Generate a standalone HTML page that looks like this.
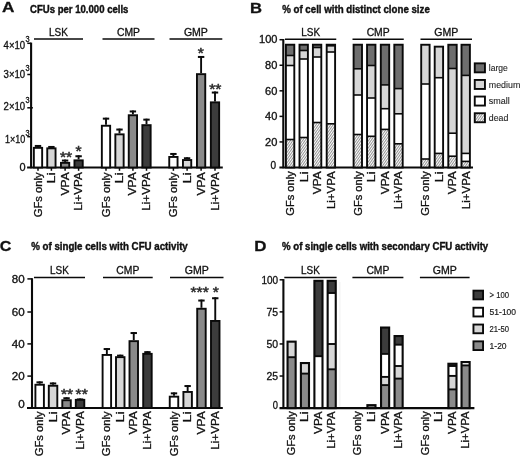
<!DOCTYPE html>
<html><head><meta charset="utf-8"><title>Figure</title>
<style>
html,body{margin:0;padding:0;background:#fff;overflow:hidden}
svg{display:block}
text{font-family:"Liberation Sans",Arial,sans-serif}
</style></head>
<body>
<svg width="520" height="456" viewBox="0 0 520 456">
<defs>
<pattern id="hatch" width="2" height="2" patternUnits="userSpaceOnUse" patternTransform="rotate(-55)">
<rect width="2" height="2" fill="#fff"/>
<line x1="0" y1="0.5" x2="2" y2="0.5" stroke="#808080" stroke-width="0.85"/>
</pattern>
</defs>
<rect width="520" height="456" fill="#fff"/>
<text x="2.0" y="12.4" font-size="14.8" text-anchor="start" font-weight="bold" textLength="12.4" lengthAdjust="spacingAndGlyphs" fill="#111" stroke="#111" stroke-width="0.3" >A</text>
<text x="30.1" y="13.1" font-size="10.4" text-anchor="start" font-weight="bold" textLength="98.3" lengthAdjust="spacingAndGlyphs" fill="#111" stroke="#111" stroke-width="0.4" >CFUs per 10.000 cells</text>
<line x1="31.1" y1="42.599999999999994" x2="31.1" y2="168.3" stroke="#0a0a0a" stroke-width="2.1"/>
<line x1="27.1" y1="167.5" x2="222.8" y2="167.5" stroke="#0a0a0a" stroke-width="2.1"/>
<line x1="27.3" y1="136.7" x2="31.1" y2="136.7" stroke="#0a0a0a" stroke-width="1.5"/>
<text x="25.2" y="142.6" font-size="10" text-anchor="end" textLength="20.2" lengthAdjust="spacingAndGlyphs" fill="#111" stroke="#111" stroke-width="0.3" >1×10</text>
<text x="25.5" y="135.9" font-size="8.2" text-anchor="start" textLength="4.1" lengthAdjust="spacingAndGlyphs" fill="#111" stroke="#111" stroke-width="0.3" >3</text>
<line x1="27.3" y1="107.8" x2="32.9" y2="107.8" stroke="#0a0a0a" stroke-width="1.5"/>
<text x="25.2" y="110.0" font-size="10" text-anchor="end" textLength="21.6" lengthAdjust="spacingAndGlyphs" fill="#111" stroke="#111" stroke-width="0.3" >2×10</text>
<text x="25.5" y="103.3" font-size="8.2" text-anchor="start" textLength="4.1" lengthAdjust="spacingAndGlyphs" fill="#111" stroke="#111" stroke-width="0.3" >3</text>
<line x1="27.3" y1="74.5" x2="31.1" y2="74.5" stroke="#0a0a0a" stroke-width="1.5"/>
<text x="25.2" y="77.6" font-size="10" text-anchor="end" textLength="21.6" lengthAdjust="spacingAndGlyphs" fill="#111" stroke="#111" stroke-width="0.3" >3×10</text>
<text x="25.5" y="70.89999999999999" font-size="8.2" text-anchor="start" textLength="4.1" lengthAdjust="spacingAndGlyphs" fill="#111" stroke="#111" stroke-width="0.3" >3</text>
<line x1="27.3" y1="43.3" x2="31.1" y2="43.3" stroke="#0a0a0a" stroke-width="1.5"/>
<text x="25.2" y="48.5" font-size="10" text-anchor="end" textLength="21.6" lengthAdjust="spacingAndGlyphs" fill="#111" stroke="#111" stroke-width="0.3" >4×10</text>
<text x="25.5" y="41.8" font-size="8.2" text-anchor="start" textLength="4.1" lengthAdjust="spacingAndGlyphs" fill="#111" stroke="#111" stroke-width="0.3" >3</text>
<text x="19.6" y="171.4" font-size="10.1" text-anchor="start" textLength="6.1" lengthAdjust="spacingAndGlyphs" fill="#111" stroke="#111" stroke-width="0.3" >0</text>
<line x1="34" y1="39.0" x2="83" y2="39.0" stroke="#0a0a0a" stroke-width="1.5"/>
<text x="58.5" y="35.8" font-size="10" text-anchor="middle" textLength="18.8" lengthAdjust="spacingAndGlyphs" fill="#111" stroke="#111" stroke-width="0.3" >LSK</text>
<line x1="102.5" y1="39.0" x2="154.5" y2="39.0" stroke="#0a0a0a" stroke-width="1.5"/>
<text x="128.5" y="35.8" font-size="10" text-anchor="middle" textLength="23" lengthAdjust="spacingAndGlyphs" fill="#111" stroke="#111" stroke-width="0.3" >CMP</text>
<line x1="169.5" y1="39.0" x2="222.3" y2="39.0" stroke="#0a0a0a" stroke-width="1.5"/>
<text x="195.9" y="35.8" font-size="10" text-anchor="middle" textLength="24" lengthAdjust="spacingAndGlyphs" fill="#111" stroke="#111" stroke-width="0.3" >GMP</text>
<line x1="38" y1="145.0" x2="38" y2="146.9" stroke="#0a0a0a" stroke-width="1.9"/>
<line x1="34.8" y1="145.95" x2="41.2" y2="145.95" stroke="#0a0a0a" stroke-width="2.0"/>
<rect x="33.85" y="147.85" width="8.30" height="19.65" fill="#ffffff" stroke="#0a0a0a" stroke-width="1.9"/>
<line x1="38" y1="167.5" x2="38" y2="170.8" stroke="#0a0a0a" stroke-width="1.5"/>
<line x1="51.4" y1="146.0" x2="51.4" y2="147.4" stroke="#0a0a0a" stroke-width="1.9"/>
<line x1="48.199999999999996" y1="146.95" x2="54.6" y2="146.95" stroke="#0a0a0a" stroke-width="2.0"/>
<rect x="47.25" y="148.35" width="8.30" height="19.15" fill="#d6d6d6" stroke="#0a0a0a" stroke-width="1.9"/>
<line x1="51.4" y1="167.5" x2="51.4" y2="170.8" stroke="#0a0a0a" stroke-width="1.5"/>
<line x1="65.1" y1="159.6" x2="65.1" y2="161.9" stroke="#0a0a0a" stroke-width="1.9"/>
<line x1="61.89999999999999" y1="160.54999999999998" x2="68.3" y2="160.54999999999998" stroke="#0a0a0a" stroke-width="2.0"/>
<rect x="60.95" y="162.85" width="8.30" height="4.65" fill="#8a8a8a" stroke="#0a0a0a" stroke-width="1.9"/>
<line x1="65.1" y1="167.5" x2="65.1" y2="170.8" stroke="#0a0a0a" stroke-width="1.5"/>
<line x1="78.6" y1="155.3" x2="78.6" y2="159.4" stroke="#0a0a0a" stroke-width="1.9"/>
<line x1="75.39999999999999" y1="156.25" x2="81.8" y2="156.25" stroke="#0a0a0a" stroke-width="2.0"/>
<rect x="74.45" y="160.35" width="8.30" height="7.15" fill="#3c3c3c" stroke="#0a0a0a" stroke-width="1.9"/>
<line x1="78.6" y1="167.5" x2="78.6" y2="170.8" stroke="#0a0a0a" stroke-width="1.5"/>
<line x1="106" y1="117.7" x2="106" y2="124.8" stroke="#0a0a0a" stroke-width="1.9"/>
<line x1="102.8" y1="118.65" x2="109.2" y2="118.65" stroke="#0a0a0a" stroke-width="2.0"/>
<rect x="101.85" y="125.75" width="8.30" height="41.75" fill="#ffffff" stroke="#0a0a0a" stroke-width="1.9"/>
<line x1="106" y1="167.5" x2="106" y2="170.8" stroke="#0a0a0a" stroke-width="1.5"/>
<line x1="119.5" y1="128.6" x2="119.5" y2="133.4" stroke="#0a0a0a" stroke-width="1.9"/>
<line x1="116.3" y1="129.54999999999998" x2="122.7" y2="129.54999999999998" stroke="#0a0a0a" stroke-width="2.0"/>
<rect x="115.35" y="134.35" width="8.30" height="33.15" fill="#d6d6d6" stroke="#0a0a0a" stroke-width="1.9"/>
<line x1="119.5" y1="167.5" x2="119.5" y2="170.8" stroke="#0a0a0a" stroke-width="1.5"/>
<line x1="132.9" y1="110.5" x2="132.9" y2="114.3" stroke="#0a0a0a" stroke-width="1.9"/>
<line x1="129.70000000000002" y1="111.45" x2="136.1" y2="111.45" stroke="#0a0a0a" stroke-width="2.0"/>
<rect x="128.75" y="115.25" width="8.30" height="52.25" fill="#8a8a8a" stroke="#0a0a0a" stroke-width="1.9"/>
<line x1="132.9" y1="167.5" x2="132.9" y2="170.8" stroke="#0a0a0a" stroke-width="1.5"/>
<line x1="146.5" y1="118.7" x2="146.5" y2="124.2" stroke="#0a0a0a" stroke-width="1.9"/>
<line x1="143.3" y1="119.65" x2="149.7" y2="119.65" stroke="#0a0a0a" stroke-width="2.0"/>
<rect x="142.35" y="125.15" width="8.30" height="42.35" fill="#3c3c3c" stroke="#0a0a0a" stroke-width="1.9"/>
<line x1="146.5" y1="167.5" x2="146.5" y2="170.8" stroke="#0a0a0a" stroke-width="1.5"/>
<line x1="173.4" y1="153" x2="173.4" y2="156" stroke="#0a0a0a" stroke-width="1.9"/>
<line x1="170.20000000000002" y1="153.95" x2="176.6" y2="153.95" stroke="#0a0a0a" stroke-width="2.0"/>
<rect x="169.25" y="156.95" width="8.30" height="10.55" fill="#ffffff" stroke="#0a0a0a" stroke-width="1.9"/>
<line x1="173.4" y1="167.5" x2="173.4" y2="170.8" stroke="#0a0a0a" stroke-width="1.5"/>
<line x1="187.1" y1="157.3" x2="187.1" y2="159.1" stroke="#0a0a0a" stroke-width="1.9"/>
<line x1="183.9" y1="158.25" x2="190.29999999999998" y2="158.25" stroke="#0a0a0a" stroke-width="2.0"/>
<rect x="182.95" y="160.05" width="8.30" height="7.45" fill="#d6d6d6" stroke="#0a0a0a" stroke-width="1.9"/>
<line x1="187.1" y1="167.5" x2="187.1" y2="170.8" stroke="#0a0a0a" stroke-width="1.5"/>
<line x1="201.1" y1="56" x2="201.1" y2="73.2" stroke="#0a0a0a" stroke-width="1.9"/>
<line x1="197.9" y1="56.95" x2="204.29999999999998" y2="56.95" stroke="#0a0a0a" stroke-width="2.0"/>
<rect x="196.95" y="74.15" width="8.30" height="93.35" fill="#8a8a8a" stroke="#0a0a0a" stroke-width="1.9"/>
<line x1="201.1" y1="167.5" x2="201.1" y2="170.8" stroke="#0a0a0a" stroke-width="1.5"/>
<line x1="215" y1="91.6" x2="215" y2="101.4" stroke="#0a0a0a" stroke-width="1.9"/>
<line x1="211.8" y1="92.55" x2="218.2" y2="92.55" stroke="#0a0a0a" stroke-width="2.0"/>
<rect x="210.85" y="102.35" width="8.30" height="65.15" fill="#3c3c3c" stroke="#0a0a0a" stroke-width="1.9"/>
<line x1="215" y1="167.5" x2="215" y2="170.8" stroke="#0a0a0a" stroke-width="1.5"/>
<text x="41.6" y="172.3" font-size="10.2" text-anchor="end" textLength="45.0" lengthAdjust="spacingAndGlyphs" transform="rotate(-90 41.6 172.3)" fill="#111" stroke="#111" stroke-width="0.3" >GFs only</text>
<text x="55.0" y="172.3" font-size="10.2" text-anchor="end" textLength="11.3" lengthAdjust="spacingAndGlyphs" transform="rotate(-90 55.0 172.3)" fill="#111" stroke="#111" stroke-width="0.3" >Li</text>
<text x="68.69999999999999" y="172.3" font-size="10.2" text-anchor="end" textLength="23.2" lengthAdjust="spacingAndGlyphs" transform="rotate(-90 68.69999999999999 172.3)" fill="#111" stroke="#111" stroke-width="0.3" >VPA</text>
<text x="82.19999999999999" y="172.3" font-size="10.2" text-anchor="end" textLength="38.4" lengthAdjust="spacingAndGlyphs" transform="rotate(-90 82.19999999999999 172.3)" fill="#111" stroke="#111" stroke-width="0.3" >Li+VPA</text>
<text x="109.6" y="172.3" font-size="10.2" text-anchor="end" textLength="45.0" lengthAdjust="spacingAndGlyphs" transform="rotate(-90 109.6 172.3)" fill="#111" stroke="#111" stroke-width="0.3" >GFs only</text>
<text x="123.1" y="172.3" font-size="10.2" text-anchor="end" textLength="11.3" lengthAdjust="spacingAndGlyphs" transform="rotate(-90 123.1 172.3)" fill="#111" stroke="#111" stroke-width="0.3" >Li</text>
<text x="136.5" y="172.3" font-size="10.2" text-anchor="end" textLength="23.2" lengthAdjust="spacingAndGlyphs" transform="rotate(-90 136.5 172.3)" fill="#111" stroke="#111" stroke-width="0.3" >VPA</text>
<text x="150.1" y="172.3" font-size="10.2" text-anchor="end" textLength="38.4" lengthAdjust="spacingAndGlyphs" transform="rotate(-90 150.1 172.3)" fill="#111" stroke="#111" stroke-width="0.3" >Li+VPA</text>
<text x="177.0" y="172.3" font-size="10.2" text-anchor="end" textLength="45.0" lengthAdjust="spacingAndGlyphs" transform="rotate(-90 177.0 172.3)" fill="#111" stroke="#111" stroke-width="0.3" >GFs only</text>
<text x="190.7" y="172.3" font-size="10.2" text-anchor="end" textLength="11.3" lengthAdjust="spacingAndGlyphs" transform="rotate(-90 190.7 172.3)" fill="#111" stroke="#111" stroke-width="0.3" >Li</text>
<text x="204.7" y="172.3" font-size="10.2" text-anchor="end" textLength="23.2" lengthAdjust="spacingAndGlyphs" transform="rotate(-90 204.7 172.3)" fill="#111" stroke="#111" stroke-width="0.3" >VPA</text>
<text x="218.6" y="172.3" font-size="10.2" text-anchor="end" textLength="38.4" lengthAdjust="spacingAndGlyphs" transform="rotate(-90 218.6 172.3)" fill="#111" stroke="#111" stroke-width="0.3" >Li+VPA</text>
<text x="66.1" y="162.0" font-size="14.5" text-anchor="middle" textLength="12.2" lengthAdjust="spacingAndGlyphs" fill="#2a2a2a" stroke="#2a2a2a" stroke-width="0.5" >**</text>
<text x="78.6" y="156.15" font-size="14.5" text-anchor="middle" textLength="6.1" lengthAdjust="spacingAndGlyphs" fill="#2a2a2a" stroke="#2a2a2a" stroke-width="0.5" >*</text>
<text x="200.8" y="57.6" font-size="14.5" text-anchor="middle" textLength="6.1" lengthAdjust="spacingAndGlyphs" fill="#2a2a2a" stroke="#2a2a2a" stroke-width="0.5" >*</text>
<text x="215.3" y="94.4" font-size="14.5" text-anchor="middle" textLength="12.2" lengthAdjust="spacingAndGlyphs" fill="#2a2a2a" stroke="#2a2a2a" stroke-width="0.5" >**</text>
<text x="250.0" y="12.5" font-size="14.8" text-anchor="start" font-weight="bold" textLength="12" lengthAdjust="spacingAndGlyphs" fill="#111" stroke="#111" stroke-width="0.3" >B</text>
<text x="282.2" y="13.1" font-size="10.4" text-anchor="start" font-weight="bold" textLength="147.6" lengthAdjust="spacingAndGlyphs" fill="#111" stroke="#111" stroke-width="0.4" >% of cell with distinct clone size</text>
<line x1="283.3" y1="39.0" x2="283.3" y2="168.3" stroke="#0a0a0a" stroke-width="2.1"/>
<line x1="279.40000000000003" y1="167.5" x2="473" y2="167.5" stroke="#0a0a0a" stroke-width="2.1"/>
<text x="276.2" y="168.5" font-size="10.1" text-anchor="end" textLength="5.6" lengthAdjust="spacingAndGlyphs" fill="#111" stroke="#111" stroke-width="0.3" >0</text>
<line x1="279.5" y1="141.94" x2="283.3" y2="141.94" stroke="#0a0a0a" stroke-width="1.5"/>
<text x="277.4" y="145.64" font-size="10.1" text-anchor="end" textLength="12.3" lengthAdjust="spacingAndGlyphs" fill="#111" stroke="#111" stroke-width="0.3" >20</text>
<line x1="279.5" y1="116.38" x2="283.3" y2="116.38" stroke="#0a0a0a" stroke-width="1.5"/>
<text x="277.4" y="120.08" font-size="10.1" text-anchor="end" textLength="12.3" lengthAdjust="spacingAndGlyphs" fill="#111" stroke="#111" stroke-width="0.3" >40</text>
<line x1="279.5" y1="90.82000000000001" x2="283.3" y2="90.82000000000001" stroke="#0a0a0a" stroke-width="1.5"/>
<text x="277.4" y="94.52000000000001" font-size="10.1" text-anchor="end" textLength="12.3" lengthAdjust="spacingAndGlyphs" fill="#111" stroke="#111" stroke-width="0.3" >60</text>
<line x1="279.5" y1="65.26" x2="283.3" y2="65.26" stroke="#0a0a0a" stroke-width="1.5"/>
<text x="277.4" y="68.96000000000001" font-size="10.1" text-anchor="end" textLength="12.3" lengthAdjust="spacingAndGlyphs" fill="#111" stroke="#111" stroke-width="0.3" >80</text>
<line x1="279.5" y1="39.7" x2="283.3" y2="39.7" stroke="#0a0a0a" stroke-width="1.5"/>
<text x="277.4" y="43.400000000000006" font-size="10.1" text-anchor="end" textLength="18.4" lengthAdjust="spacingAndGlyphs" fill="#111" stroke="#111" stroke-width="0.3" >100</text>
<line x1="285" y1="39.2" x2="336.25" y2="39.2" stroke="#0a0a0a" stroke-width="1.5"/>
<text x="310.625" y="35.8" font-size="10" text-anchor="middle" textLength="18.8" lengthAdjust="spacingAndGlyphs" fill="#111" stroke="#111" stroke-width="0.3" >LSK</text>
<line x1="352.5" y1="39.2" x2="403.75" y2="39.2" stroke="#0a0a0a" stroke-width="1.5"/>
<text x="378.125" y="35.8" font-size="10" text-anchor="middle" textLength="23" lengthAdjust="spacingAndGlyphs" fill="#111" stroke="#111" stroke-width="0.3" >CMP</text>
<line x1="420.5" y1="39.2" x2="472" y2="39.2" stroke="#0a0a0a" stroke-width="1.5"/>
<text x="446.25" y="35.8" font-size="10" text-anchor="middle" textLength="24" lengthAdjust="spacingAndGlyphs" fill="#111" stroke="#111" stroke-width="0.3" >GMP</text>
<rect x="285.90" y="44.70" width="8.40" height="10.80" fill="#6e6e6e"/>
<rect x="285.90" y="55.50" width="8.40" height="10.00" fill="#d6d6d6"/>
<rect x="285.90" y="65.50" width="8.40" height="74.00" fill="#ffffff"/>
<rect x="285.90" y="139.50" width="8.40" height="28.00" fill="url(#hatch)"/>
<line x1="285.9" y1="55.5" x2="294.3" y2="55.5" stroke="#0a0a0a" stroke-width="1.6"/>
<line x1="285.9" y1="65.5" x2="294.3" y2="65.5" stroke="#0a0a0a" stroke-width="1.6"/>
<line x1="285.9" y1="139.5" x2="294.3" y2="139.5" stroke="#0a0a0a" stroke-width="1.6"/>
<rect x="285.90" y="44.70" width="8.40" height="122.80" fill="none" stroke="#0a0a0a" stroke-width="1.9"/>
<rect x="299.50" y="44.70" width="8.40" height="5.80" fill="#6e6e6e"/>
<rect x="299.50" y="50.50" width="8.40" height="8.50" fill="#d6d6d6"/>
<rect x="299.50" y="59.00" width="8.40" height="78.50" fill="#ffffff"/>
<rect x="299.50" y="137.50" width="8.40" height="30.00" fill="url(#hatch)"/>
<line x1="299.5" y1="50.5" x2="307.9" y2="50.5" stroke="#0a0a0a" stroke-width="1.6"/>
<line x1="299.5" y1="59" x2="307.9" y2="59" stroke="#0a0a0a" stroke-width="1.6"/>
<line x1="299.5" y1="137.5" x2="307.9" y2="137.5" stroke="#0a0a0a" stroke-width="1.6"/>
<rect x="299.50" y="44.70" width="8.40" height="122.80" fill="none" stroke="#0a0a0a" stroke-width="1.9"/>
<rect x="312.90" y="44.70" width="8.40" height="2.80" fill="#6e6e6e"/>
<rect x="312.90" y="47.50" width="8.40" height="9.50" fill="#d6d6d6"/>
<rect x="312.90" y="57.00" width="8.40" height="65.50" fill="#ffffff"/>
<rect x="312.90" y="122.50" width="8.40" height="45.00" fill="url(#hatch)"/>
<line x1="312.9" y1="47.5" x2="321.3" y2="47.5" stroke="#0a0a0a" stroke-width="1.6"/>
<line x1="312.9" y1="57" x2="321.3" y2="57" stroke="#0a0a0a" stroke-width="1.6"/>
<line x1="312.9" y1="122.5" x2="321.3" y2="122.5" stroke="#0a0a0a" stroke-width="1.6"/>
<rect x="312.90" y="44.70" width="8.40" height="122.80" fill="none" stroke="#0a0a0a" stroke-width="1.9"/>
<rect x="326.70" y="44.70" width="8.40" height="1.10" fill="#6e6e6e"/>
<rect x="326.70" y="45.80" width="8.40" height="6.20" fill="#d6d6d6"/>
<rect x="326.70" y="52.00" width="8.40" height="71.80" fill="#ffffff"/>
<rect x="326.70" y="123.80" width="8.40" height="43.70" fill="url(#hatch)"/>
<line x1="326.7" y1="45.8" x2="335.1" y2="45.8" stroke="#0a0a0a" stroke-width="1.6"/>
<line x1="326.7" y1="52" x2="335.1" y2="52" stroke="#0a0a0a" stroke-width="1.6"/>
<line x1="326.7" y1="123.8" x2="335.1" y2="123.8" stroke="#0a0a0a" stroke-width="1.6"/>
<rect x="326.70" y="44.70" width="8.40" height="122.80" fill="none" stroke="#0a0a0a" stroke-width="1.9"/>
<rect x="353.60" y="44.70" width="8.40" height="24.10" fill="#6e6e6e"/>
<rect x="353.60" y="68.80" width="8.40" height="26.20" fill="#d6d6d6"/>
<rect x="353.60" y="95.00" width="8.40" height="39.50" fill="#ffffff"/>
<rect x="353.60" y="134.50" width="8.40" height="33.00" fill="url(#hatch)"/>
<line x1="353.6" y1="68.8" x2="362.0" y2="68.8" stroke="#0a0a0a" stroke-width="1.6"/>
<line x1="353.6" y1="95" x2="362.0" y2="95" stroke="#0a0a0a" stroke-width="1.6"/>
<line x1="353.6" y1="134.5" x2="362.0" y2="134.5" stroke="#0a0a0a" stroke-width="1.6"/>
<rect x="353.60" y="44.70" width="8.40" height="122.80" fill="none" stroke="#0a0a0a" stroke-width="1.9"/>
<rect x="367.05" y="44.70" width="8.40" height="20.80" fill="#6e6e6e"/>
<rect x="367.05" y="65.50" width="8.40" height="32.50" fill="#d6d6d6"/>
<rect x="367.05" y="98.00" width="8.40" height="38.30" fill="#ffffff"/>
<rect x="367.05" y="136.30" width="8.40" height="31.20" fill="url(#hatch)"/>
<line x1="367.05" y1="65.5" x2="375.45" y2="65.5" stroke="#0a0a0a" stroke-width="1.6"/>
<line x1="367.05" y1="98" x2="375.45" y2="98" stroke="#0a0a0a" stroke-width="1.6"/>
<line x1="367.05" y1="136.3" x2="375.45" y2="136.3" stroke="#0a0a0a" stroke-width="1.6"/>
<rect x="367.05" y="44.70" width="8.40" height="122.80" fill="none" stroke="#0a0a0a" stroke-width="1.9"/>
<rect x="380.80" y="44.70" width="8.40" height="40.20" fill="#6e6e6e"/>
<rect x="380.80" y="84.90" width="8.40" height="23.80" fill="#d6d6d6"/>
<rect x="380.80" y="108.70" width="8.40" height="20.70" fill="#ffffff"/>
<rect x="380.80" y="129.40" width="8.40" height="38.10" fill="url(#hatch)"/>
<line x1="380.8" y1="84.9" x2="389.2" y2="84.9" stroke="#0a0a0a" stroke-width="1.6"/>
<line x1="380.8" y1="108.7" x2="389.2" y2="108.7" stroke="#0a0a0a" stroke-width="1.6"/>
<line x1="380.8" y1="129.4" x2="389.2" y2="129.4" stroke="#0a0a0a" stroke-width="1.6"/>
<rect x="380.80" y="44.70" width="8.40" height="122.80" fill="none" stroke="#0a0a0a" stroke-width="1.9"/>
<rect x="394.30" y="44.70" width="8.40" height="43.90" fill="#6e6e6e"/>
<rect x="394.30" y="88.60" width="8.40" height="25.20" fill="#d6d6d6"/>
<rect x="394.30" y="113.80" width="8.40" height="30.00" fill="#ffffff"/>
<rect x="394.30" y="143.80" width="8.40" height="23.70" fill="url(#hatch)"/>
<line x1="394.3" y1="88.6" x2="402.7" y2="88.6" stroke="#0a0a0a" stroke-width="1.6"/>
<line x1="394.3" y1="113.8" x2="402.7" y2="113.8" stroke="#0a0a0a" stroke-width="1.6"/>
<line x1="394.3" y1="143.8" x2="402.7" y2="143.8" stroke="#0a0a0a" stroke-width="1.6"/>
<rect x="394.30" y="44.70" width="8.40" height="122.80" fill="none" stroke="#0a0a0a" stroke-width="1.9"/>
<rect x="421.20" y="44.75" width="8.40" height="39.25" fill="#d6d6d6"/>
<rect x="421.20" y="84.00" width="8.40" height="75.00" fill="#ffffff"/>
<rect x="421.20" y="159.00" width="8.40" height="8.50" fill="url(#hatch)"/>
<line x1="421.2" y1="84" x2="429.6" y2="84" stroke="#0a0a0a" stroke-width="1.6"/>
<line x1="421.2" y1="159" x2="429.6" y2="159" stroke="#0a0a0a" stroke-width="1.6"/>
<rect x="421.20" y="44.75" width="8.40" height="122.75" fill="none" stroke="#0a0a0a" stroke-width="1.9"/>
<rect x="434.70" y="46.65" width="8.40" height="31.05" fill="#d6d6d6"/>
<rect x="434.70" y="77.70" width="8.40" height="75.70" fill="#ffffff"/>
<rect x="434.70" y="153.40" width="8.40" height="14.10" fill="url(#hatch)"/>
<line x1="434.7" y1="77.7" x2="443.1" y2="77.7" stroke="#0a0a0a" stroke-width="1.6"/>
<line x1="434.7" y1="153.4" x2="443.1" y2="153.4" stroke="#0a0a0a" stroke-width="1.6"/>
<rect x="434.70" y="46.65" width="8.40" height="120.85" fill="none" stroke="#0a0a0a" stroke-width="1.9"/>
<rect x="448.30" y="44.75" width="8.40" height="23.75" fill="#6e6e6e"/>
<rect x="448.30" y="68.50" width="8.40" height="64.70" fill="#d6d6d6"/>
<rect x="448.30" y="133.20" width="8.40" height="23.00" fill="#ffffff"/>
<rect x="448.30" y="156.20" width="8.40" height="11.30" fill="url(#hatch)"/>
<line x1="448.3" y1="68.5" x2="456.7" y2="68.5" stroke="#0a0a0a" stroke-width="1.6"/>
<line x1="448.3" y1="133.2" x2="456.7" y2="133.2" stroke="#0a0a0a" stroke-width="1.6"/>
<line x1="448.3" y1="156.2" x2="456.7" y2="156.2" stroke="#0a0a0a" stroke-width="1.6"/>
<rect x="448.30" y="44.75" width="8.40" height="122.75" fill="none" stroke="#0a0a0a" stroke-width="1.9"/>
<rect x="461.50" y="44.75" width="8.40" height="30.65" fill="#6e6e6e"/>
<rect x="461.50" y="75.40" width="8.40" height="78.00" fill="#d6d6d6"/>
<rect x="461.50" y="153.40" width="8.40" height="8.00" fill="#ffffff"/>
<rect x="461.50" y="161.40" width="8.40" height="6.10" fill="url(#hatch)"/>
<line x1="461.5" y1="75.4" x2="469.9" y2="75.4" stroke="#0a0a0a" stroke-width="1.6"/>
<line x1="461.5" y1="153.4" x2="469.9" y2="153.4" stroke="#0a0a0a" stroke-width="1.6"/>
<line x1="461.5" y1="161.4" x2="469.9" y2="161.4" stroke="#0a0a0a" stroke-width="1.6"/>
<rect x="461.50" y="44.75" width="8.40" height="122.75" fill="none" stroke="#0a0a0a" stroke-width="1.9"/>
<text x="294.1" y="171.3" font-size="10.2" text-anchor="end" textLength="44.33" lengthAdjust="spacingAndGlyphs" transform="rotate(-90 294.1 171.3)" fill="#111" stroke="#111" stroke-width="0.3" >GFs only</text>
<text x="307.7" y="171.3" font-size="10.2" text-anchor="end" textLength="11.13" lengthAdjust="spacingAndGlyphs" transform="rotate(-90 307.7 171.3)" fill="#111" stroke="#111" stroke-width="0.3" >Li</text>
<text x="321.1" y="171.3" font-size="10.2" text-anchor="end" textLength="22.85" lengthAdjust="spacingAndGlyphs" transform="rotate(-90 321.1 171.3)" fill="#111" stroke="#111" stroke-width="0.3" >VPA</text>
<text x="334.9" y="171.3" font-size="10.2" text-anchor="end" textLength="37.82" lengthAdjust="spacingAndGlyphs" transform="rotate(-90 334.9 171.3)" fill="#111" stroke="#111" stroke-width="0.3" >Li+VPA</text>
<text x="361.8" y="171.3" font-size="10.2" text-anchor="end" textLength="44.33" lengthAdjust="spacingAndGlyphs" transform="rotate(-90 361.8 171.3)" fill="#111" stroke="#111" stroke-width="0.3" >GFs only</text>
<text x="375.25" y="171.3" font-size="10.2" text-anchor="end" textLength="11.13" lengthAdjust="spacingAndGlyphs" transform="rotate(-90 375.25 171.3)" fill="#111" stroke="#111" stroke-width="0.3" >Li</text>
<text x="389.0" y="171.3" font-size="10.2" text-anchor="end" textLength="22.85" lengthAdjust="spacingAndGlyphs" transform="rotate(-90 389.0 171.3)" fill="#111" stroke="#111" stroke-width="0.3" >VPA</text>
<text x="402.5" y="171.3" font-size="10.2" text-anchor="end" textLength="37.82" lengthAdjust="spacingAndGlyphs" transform="rotate(-90 402.5 171.3)" fill="#111" stroke="#111" stroke-width="0.3" >Li+VPA</text>
<text x="429.4" y="171.3" font-size="10.2" text-anchor="end" textLength="44.33" lengthAdjust="spacingAndGlyphs" transform="rotate(-90 429.4 171.3)" fill="#111" stroke="#111" stroke-width="0.3" >GFs only</text>
<text x="442.9" y="171.3" font-size="10.2" text-anchor="end" textLength="11.13" lengthAdjust="spacingAndGlyphs" transform="rotate(-90 442.9 171.3)" fill="#111" stroke="#111" stroke-width="0.3" >Li</text>
<text x="456.5" y="171.3" font-size="10.2" text-anchor="end" textLength="22.85" lengthAdjust="spacingAndGlyphs" transform="rotate(-90 456.5 171.3)" fill="#111" stroke="#111" stroke-width="0.3" >VPA</text>
<text x="469.7" y="171.3" font-size="10.2" text-anchor="end" textLength="37.82" lengthAdjust="spacingAndGlyphs" transform="rotate(-90 469.7 171.3)" fill="#111" stroke="#111" stroke-width="0.3" >Li+VPA</text>
<rect x="474.75" y="63.35" width="10.20" height="9.00" fill="#6e6e6e" stroke="#0a0a0a" stroke-width="1.9"/>
<text x="488.8" y="70.9" font-size="9.3" text-anchor="start" textLength="19" lengthAdjust="spacingAndGlyphs" fill="#222" stroke="#222" stroke-width="0.1" >large</text>
<rect x="474.75" y="79.95" width="10.20" height="9.00" fill="#d6d6d6" stroke="#0a0a0a" stroke-width="1.9"/>
<text x="488.8" y="87.5" font-size="9.3" text-anchor="start" textLength="31.5" lengthAdjust="spacingAndGlyphs" fill="#222" stroke="#222" stroke-width="0.1" >medium</text>
<rect x="474.75" y="96.55" width="10.20" height="9.00" fill="#ffffff" stroke="#0a0a0a" stroke-width="1.9"/>
<text x="488.8" y="104.1" font-size="9.3" text-anchor="start" textLength="21" lengthAdjust="spacingAndGlyphs" fill="#222" stroke="#222" stroke-width="0.1" >small</text>
<rect x="474.75" y="113.25" width="10.20" height="9.00" fill="url(#hatch)" stroke="#0a0a0a" stroke-width="1.9"/>
<text x="488.8" y="120.8" font-size="9.3" text-anchor="start" textLength="19.5" lengthAdjust="spacingAndGlyphs" fill="#222" stroke="#222" stroke-width="0.1" >dead</text>
<text x="-0.2" y="251.2" font-size="14.8" text-anchor="start" font-weight="bold" textLength="11.6" lengthAdjust="spacingAndGlyphs" fill="#111" stroke="#111" stroke-width="0.3" >C</text>
<text x="31.2" y="249.5" font-size="10.4" text-anchor="start" font-weight="bold" textLength="156.6" lengthAdjust="spacingAndGlyphs" fill="#111" stroke="#111" stroke-width="0.4" >% of single cells with CFU activity</text>
<line x1="32.0" y1="278.2" x2="32.0" y2="409.0" stroke="#0a0a0a" stroke-width="2.1"/>
<line x1="27.0" y1="408.0" x2="222.8" y2="408.0" stroke="#0a0a0a" stroke-width="2.1"/>
<text x="24.7" y="407.8" font-size="10.1" text-anchor="end" textLength="6.5" lengthAdjust="spacingAndGlyphs" fill="#111" stroke="#111" stroke-width="0.3" >0</text>
<line x1="27.4" y1="376.1" x2="32.0" y2="376.1" stroke="#0a0a0a" stroke-width="1.5"/>
<text x="24.7" y="379.8" font-size="10.1" text-anchor="end" textLength="12.9" lengthAdjust="spacingAndGlyphs" fill="#111" stroke="#111" stroke-width="0.3" >20</text>
<line x1="27.4" y1="343.9" x2="32.0" y2="343.9" stroke="#0a0a0a" stroke-width="1.5"/>
<text x="24.7" y="347.59999999999997" font-size="10.1" text-anchor="end" textLength="12.9" lengthAdjust="spacingAndGlyphs" fill="#111" stroke="#111" stroke-width="0.3" >40</text>
<line x1="27.4" y1="312.0" x2="32.0" y2="312.0" stroke="#0a0a0a" stroke-width="1.5"/>
<text x="24.7" y="315.7" font-size="10.1" text-anchor="end" textLength="12.9" lengthAdjust="spacingAndGlyphs" fill="#111" stroke="#111" stroke-width="0.3" >60</text>
<line x1="27.4" y1="278.9" x2="32.0" y2="278.9" stroke="#0a0a0a" stroke-width="1.5"/>
<text x="24.7" y="282.59999999999997" font-size="10.1" text-anchor="end" textLength="12.9" lengthAdjust="spacingAndGlyphs" fill="#111" stroke="#111" stroke-width="0.3" >80</text>
<line x1="34" y1="277.4" x2="85" y2="277.4" stroke="#0a0a0a" stroke-width="1.5"/>
<text x="59.5" y="274.0" font-size="10" text-anchor="middle" textLength="18.8" lengthAdjust="spacingAndGlyphs" fill="#111" stroke="#111" stroke-width="0.3" >LSK</text>
<line x1="103" y1="277.4" x2="152.7" y2="277.4" stroke="#0a0a0a" stroke-width="1.5"/>
<text x="127.85" y="274.0" font-size="10" text-anchor="middle" textLength="23" lengthAdjust="spacingAndGlyphs" fill="#111" stroke="#111" stroke-width="0.3" >CMP</text>
<line x1="170" y1="277.4" x2="223.5" y2="277.4" stroke="#0a0a0a" stroke-width="1.5"/>
<text x="196.75" y="274.0" font-size="10" text-anchor="middle" textLength="24" lengthAdjust="spacingAndGlyphs" fill="#111" stroke="#111" stroke-width="0.3" >GMP</text>
<line x1="39.65" y1="381.4" x2="39.65" y2="383.8" stroke="#0a0a0a" stroke-width="1.9"/>
<line x1="36.449999999999996" y1="382.34999999999997" x2="42.85" y2="382.34999999999997" stroke="#0a0a0a" stroke-width="2.0"/>
<rect x="35.40" y="384.75" width="8.50" height="23.25" fill="#ffffff" stroke="#0a0a0a" stroke-width="1.9"/>
<line x1="53.05" y1="382.5" x2="53.05" y2="384.8" stroke="#0a0a0a" stroke-width="1.9"/>
<line x1="49.849999999999994" y1="383.45" x2="56.25" y2="383.45" stroke="#0a0a0a" stroke-width="2.0"/>
<rect x="48.80" y="385.75" width="8.50" height="22.25" fill="#d6d6d6" stroke="#0a0a0a" stroke-width="1.9"/>
<line x1="66.55" y1="397.3" x2="66.55" y2="399.3" stroke="#0a0a0a" stroke-width="1.9"/>
<line x1="63.349999999999994" y1="398.25" x2="69.75" y2="398.25" stroke="#0a0a0a" stroke-width="2.0"/>
<rect x="62.30" y="400.25" width="8.50" height="7.75" fill="#8a8a8a" stroke="#0a0a0a" stroke-width="1.9"/>
<line x1="80.05" y1="398.5" x2="80.05" y2="398.9" stroke="#0a0a0a" stroke-width="1.9"/>
<line x1="76.85" y1="399.45" x2="83.25" y2="399.45" stroke="#0a0a0a" stroke-width="2.0"/>
<rect x="75.80" y="399.85" width="8.50" height="8.15" fill="#3c3c3c" stroke="#0a0a0a" stroke-width="1.9"/>
<line x1="106.85" y1="348.1" x2="106.85" y2="354" stroke="#0a0a0a" stroke-width="1.9"/>
<line x1="103.64999999999999" y1="349.05" x2="110.05" y2="349.05" stroke="#0a0a0a" stroke-width="2.0"/>
<rect x="102.60" y="354.95" width="8.50" height="53.05" fill="#ffffff" stroke="#0a0a0a" stroke-width="1.9"/>
<line x1="120.25" y1="354.7" x2="120.25" y2="356.2" stroke="#0a0a0a" stroke-width="1.9"/>
<line x1="117.05" y1="355.65" x2="123.45" y2="355.65" stroke="#0a0a0a" stroke-width="2.0"/>
<rect x="116.00" y="357.15" width="8.50" height="50.85" fill="#d6d6d6" stroke="#0a0a0a" stroke-width="1.9"/>
<line x1="133.75" y1="332.1" x2="133.75" y2="340.2" stroke="#0a0a0a" stroke-width="1.9"/>
<line x1="130.55" y1="333.05" x2="136.95" y2="333.05" stroke="#0a0a0a" stroke-width="2.0"/>
<rect x="129.50" y="341.15" width="8.50" height="66.85" fill="#8a8a8a" stroke="#0a0a0a" stroke-width="1.9"/>
<line x1="147.45" y1="351.2" x2="147.45" y2="352.9" stroke="#0a0a0a" stroke-width="1.9"/>
<line x1="144.25" y1="352.15" x2="150.64999999999998" y2="352.15" stroke="#0a0a0a" stroke-width="2.0"/>
<rect x="143.20" y="353.85" width="8.50" height="54.15" fill="#3c3c3c" stroke="#0a0a0a" stroke-width="1.9"/>
<line x1="174" y1="392.4" x2="174" y2="395.7" stroke="#0a0a0a" stroke-width="1.9"/>
<line x1="170.8" y1="393.34999999999997" x2="177.2" y2="393.34999999999997" stroke="#0a0a0a" stroke-width="2.0"/>
<rect x="169.75" y="396.65" width="8.50" height="11.35" fill="#ffffff" stroke="#0a0a0a" stroke-width="1.9"/>
<line x1="187.65" y1="385.1" x2="187.65" y2="391" stroke="#0a0a0a" stroke-width="1.9"/>
<line x1="184.45000000000002" y1="386.05" x2="190.85" y2="386.05" stroke="#0a0a0a" stroke-width="2.0"/>
<rect x="183.40" y="391.95" width="8.50" height="16.05" fill="#d6d6d6" stroke="#0a0a0a" stroke-width="1.9"/>
<line x1="201.45" y1="299.6" x2="201.45" y2="307.8" stroke="#0a0a0a" stroke-width="1.9"/>
<line x1="198.25" y1="300.55" x2="204.64999999999998" y2="300.55" stroke="#0a0a0a" stroke-width="2.0"/>
<rect x="197.20" y="308.75" width="8.50" height="99.25" fill="#8a8a8a" stroke="#0a0a0a" stroke-width="1.9"/>
<line x1="215.25" y1="297.3" x2="215.25" y2="320" stroke="#0a0a0a" stroke-width="1.9"/>
<line x1="212.05" y1="298.25" x2="218.45" y2="298.25" stroke="#0a0a0a" stroke-width="2.0"/>
<rect x="211.00" y="320.95" width="8.50" height="87.05" fill="#3c3c3c" stroke="#0a0a0a" stroke-width="1.9"/>
<text x="43.25" y="411.3" font-size="10.2" text-anchor="end" textLength="45.0" lengthAdjust="spacingAndGlyphs" transform="rotate(-90 43.25 411.3)" fill="#111" stroke="#111" stroke-width="0.3" >GFs only</text>
<text x="56.65" y="411.3" font-size="10.2" text-anchor="end" textLength="11.3" lengthAdjust="spacingAndGlyphs" transform="rotate(-90 56.65 411.3)" fill="#111" stroke="#111" stroke-width="0.3" >Li</text>
<text x="70.14999999999999" y="411.3" font-size="10.2" text-anchor="end" textLength="23.2" lengthAdjust="spacingAndGlyphs" transform="rotate(-90 70.14999999999999 411.3)" fill="#111" stroke="#111" stroke-width="0.3" >VPA</text>
<text x="83.64999999999999" y="411.3" font-size="10.2" text-anchor="end" textLength="38.4" lengthAdjust="spacingAndGlyphs" transform="rotate(-90 83.64999999999999 411.3)" fill="#111" stroke="#111" stroke-width="0.3" >Li+VPA</text>
<text x="110.44999999999999" y="411.3" font-size="10.2" text-anchor="end" textLength="45.0" lengthAdjust="spacingAndGlyphs" transform="rotate(-90 110.44999999999999 411.3)" fill="#111" stroke="#111" stroke-width="0.3" >GFs only</text>
<text x="123.85" y="411.3" font-size="10.2" text-anchor="end" textLength="11.3" lengthAdjust="spacingAndGlyphs" transform="rotate(-90 123.85 411.3)" fill="#111" stroke="#111" stroke-width="0.3" >Li</text>
<text x="137.35" y="411.3" font-size="10.2" text-anchor="end" textLength="23.2" lengthAdjust="spacingAndGlyphs" transform="rotate(-90 137.35 411.3)" fill="#111" stroke="#111" stroke-width="0.3" >VPA</text>
<text x="151.04999999999998" y="411.3" font-size="10.2" text-anchor="end" textLength="38.4" lengthAdjust="spacingAndGlyphs" transform="rotate(-90 151.04999999999998 411.3)" fill="#111" stroke="#111" stroke-width="0.3" >Li+VPA</text>
<text x="177.6" y="411.3" font-size="10.2" text-anchor="end" textLength="45.0" lengthAdjust="spacingAndGlyphs" transform="rotate(-90 177.6 411.3)" fill="#111" stroke="#111" stroke-width="0.3" >GFs only</text>
<text x="191.25" y="411.3" font-size="10.2" text-anchor="end" textLength="11.3" lengthAdjust="spacingAndGlyphs" transform="rotate(-90 191.25 411.3)" fill="#111" stroke="#111" stroke-width="0.3" >Li</text>
<text x="205.04999999999998" y="411.3" font-size="10.2" text-anchor="end" textLength="23.2" lengthAdjust="spacingAndGlyphs" transform="rotate(-90 205.04999999999998 411.3)" fill="#111" stroke="#111" stroke-width="0.3" >VPA</text>
<text x="218.85" y="411.3" font-size="10.2" text-anchor="end" textLength="38.4" lengthAdjust="spacingAndGlyphs" transform="rotate(-90 218.85 411.3)" fill="#111" stroke="#111" stroke-width="0.3" >Li+VPA</text>
<text x="67.05" y="398.59999999999997" font-size="14.5" text-anchor="middle" textLength="12.2" lengthAdjust="spacingAndGlyphs" fill="#2a2a2a" stroke="#2a2a2a" stroke-width="0.5" >**</text>
<text x="81.7" y="398.59999999999997" font-size="14.5" text-anchor="middle" textLength="12.2" lengthAdjust="spacingAndGlyphs" fill="#2a2a2a" stroke="#2a2a2a" stroke-width="0.5" >**</text>
<text x="199.65" y="297.15" font-size="14.5" text-anchor="middle" textLength="18.299999999999997" lengthAdjust="spacingAndGlyphs" fill="#2a2a2a" stroke="#2a2a2a" stroke-width="0.5" >***</text>
<text x="215.9" y="297.15" font-size="14.5" text-anchor="middle" textLength="6.1" lengthAdjust="spacingAndGlyphs" fill="#2a2a2a" stroke="#2a2a2a" stroke-width="0.5" >*</text>
<text x="254.2" y="251.2" font-size="14.8" text-anchor="start" font-weight="bold" textLength="12.2" lengthAdjust="spacingAndGlyphs" fill="#111" stroke="#111" stroke-width="0.3" >D</text>
<text x="282" y="249.5" font-size="10.4" text-anchor="start" font-weight="bold" textLength="206.2" lengthAdjust="spacingAndGlyphs" fill="#111" stroke="#111" stroke-width="0.4" >% of single cells with secondary CFU activity</text>
<line x1="283.4" y1="279.1" x2="283.4" y2="408.90000000000003" stroke="#0a0a0a" stroke-width="2.1"/>
<line x1="279.5" y1="408.1" x2="474.4" y2="408.1" stroke="#0a0a0a" stroke-width="2.1"/>
<text x="278.0" y="408.90000000000003" font-size="10" text-anchor="end" textLength="5.2" lengthAdjust="spacingAndGlyphs" fill="#111" stroke="#111" stroke-width="0.3" >0</text>
<line x1="279.59999999999997" y1="376.02500000000003" x2="283.4" y2="376.02500000000003" stroke="#0a0a0a" stroke-width="1.5"/>
<text x="278.0" y="379.725" font-size="10" text-anchor="end" textLength="11.6" lengthAdjust="spacingAndGlyphs" fill="#111" stroke="#111" stroke-width="0.3" >25</text>
<line x1="279.59999999999997" y1="343.95000000000005" x2="283.4" y2="343.95000000000005" stroke="#0a0a0a" stroke-width="1.5"/>
<text x="278.0" y="347.65000000000003" font-size="10" text-anchor="end" textLength="11.6" lengthAdjust="spacingAndGlyphs" fill="#111" stroke="#111" stroke-width="0.3" >50</text>
<line x1="279.59999999999997" y1="311.875" x2="283.4" y2="311.875" stroke="#0a0a0a" stroke-width="1.5"/>
<text x="278.0" y="315.575" font-size="10" text-anchor="end" textLength="11.6" lengthAdjust="spacingAndGlyphs" fill="#111" stroke="#111" stroke-width="0.3" >75</text>
<line x1="279.59999999999997" y1="279.8" x2="283.4" y2="279.8" stroke="#0a0a0a" stroke-width="1.5"/>
<text x="278.0" y="283.5" font-size="10" text-anchor="end" textLength="16.6" lengthAdjust="spacingAndGlyphs" fill="#111" stroke="#111" stroke-width="0.3" >100</text>
<line x1="284.3" y1="277.5" x2="336.6" y2="277.5" stroke="#0a0a0a" stroke-width="1.5"/>
<text x="310.45000000000005" y="274.0" font-size="10" text-anchor="middle" textLength="18.8" lengthAdjust="spacingAndGlyphs" fill="#111" stroke="#111" stroke-width="0.3" >LSK</text>
<line x1="352.4" y1="277.5" x2="403.4" y2="277.5" stroke="#0a0a0a" stroke-width="1.5"/>
<text x="377.9" y="274.0" font-size="10" text-anchor="middle" textLength="23" lengthAdjust="spacingAndGlyphs" fill="#111" stroke="#111" stroke-width="0.3" >CMP</text>
<line x1="419.9" y1="277.5" x2="469.6" y2="277.5" stroke="#0a0a0a" stroke-width="1.5"/>
<text x="444.75" y="274.0" font-size="10" text-anchor="middle" textLength="24" lengthAdjust="spacingAndGlyphs" fill="#111" stroke="#111" stroke-width="0.3" >GMP</text>
<line x1="339.9" y1="282" x2="339.9" y2="406.5" stroke="#f0f0f0" stroke-width="1"/>
<rect x="287.55" y="341.65" width="8.10" height="15.55" fill="#d6d6d6"/>
<rect x="287.55" y="357.20" width="8.10" height="50.90" fill="#8a8a8a"/>
<line x1="287.55" y1="357.2" x2="295.65" y2="357.2" stroke="#0a0a0a" stroke-width="1.9"/>
<rect x="287.55" y="341.65" width="8.10" height="66.45" fill="none" stroke="#0a0a0a" stroke-width="2.1"/>
<rect x="300.90" y="363.05" width="8.10" height="10.55" fill="#d6d6d6"/>
<rect x="300.90" y="373.60" width="8.10" height="34.50" fill="#8a8a8a"/>
<line x1="300.9" y1="373.6" x2="309.0" y2="373.6" stroke="#0a0a0a" stroke-width="1.9"/>
<rect x="300.90" y="363.05" width="8.10" height="45.05" fill="none" stroke="#0a0a0a" stroke-width="2.1"/>
<rect x="314.40" y="280.85" width="8.10" height="75.35" fill="#3c3c3c"/>
<rect x="314.40" y="356.20" width="8.10" height="51.90" fill="#ffffff"/>
<line x1="314.4" y1="356.2" x2="322.5" y2="356.2" stroke="#0a0a0a" stroke-width="1.9"/>
<rect x="314.40" y="280.85" width="8.10" height="127.25" fill="none" stroke="#0a0a0a" stroke-width="2.1"/>
<rect x="327.65" y="280.85" width="8.10" height="12.15" fill="#3c3c3c"/>
<rect x="327.65" y="293.00" width="8.10" height="51.00" fill="#ffffff"/>
<rect x="327.65" y="344.00" width="8.10" height="25.30" fill="#d6d6d6"/>
<rect x="327.65" y="369.30" width="8.10" height="38.80" fill="#8a8a8a"/>
<line x1="327.65" y1="293.0" x2="335.75" y2="293.0" stroke="#0a0a0a" stroke-width="1.9"/>
<line x1="327.65" y1="344.0" x2="335.75" y2="344.0" stroke="#0a0a0a" stroke-width="1.9"/>
<line x1="327.65" y1="369.3" x2="335.75" y2="369.3" stroke="#0a0a0a" stroke-width="1.9"/>
<rect x="327.65" y="280.85" width="8.10" height="127.25" fill="none" stroke="#0a0a0a" stroke-width="2.1"/>
<rect x="367.40" y="405.15" width="8.10" height="2.95" fill="#8a8a8a"/>
<rect x="367.40" y="405.15" width="8.10" height="2.95" fill="none" stroke="#0a0a0a" stroke-width="2.1"/>
<rect x="381.05" y="327.55" width="8.10" height="26.35" fill="#3c3c3c"/>
<rect x="381.05" y="353.90" width="8.10" height="23.00" fill="#ffffff"/>
<rect x="381.05" y="376.90" width="8.10" height="8.20" fill="#d6d6d6"/>
<rect x="381.05" y="385.10" width="8.10" height="23.00" fill="#8a8a8a"/>
<line x1="381.05" y1="353.9" x2="389.15" y2="353.9" stroke="#0a0a0a" stroke-width="1.9"/>
<line x1="381.05" y1="376.9" x2="389.15" y2="376.9" stroke="#0a0a0a" stroke-width="1.9"/>
<line x1="381.05" y1="385.1" x2="389.15" y2="385.1" stroke="#0a0a0a" stroke-width="1.9"/>
<rect x="381.05" y="327.55" width="8.10" height="80.55" fill="none" stroke="#0a0a0a" stroke-width="2.1"/>
<rect x="394.55" y="336.05" width="8.10" height="8.65" fill="#3c3c3c"/>
<rect x="394.55" y="344.70" width="8.10" height="21.30" fill="#ffffff"/>
<rect x="394.55" y="366.00" width="8.10" height="12.60" fill="#d6d6d6"/>
<rect x="394.55" y="378.60" width="8.10" height="29.50" fill="#8a8a8a"/>
<line x1="394.55" y1="344.7" x2="402.65" y2="344.7" stroke="#0a0a0a" stroke-width="1.9"/>
<line x1="394.55" y1="366.0" x2="402.65" y2="366.0" stroke="#0a0a0a" stroke-width="1.9"/>
<line x1="394.55" y1="378.6" x2="402.65" y2="378.6" stroke="#0a0a0a" stroke-width="1.9"/>
<rect x="394.55" y="336.05" width="8.10" height="72.05" fill="none" stroke="#0a0a0a" stroke-width="2.1"/>
<rect x="448.40" y="363.75" width="8.10" height="2.25" fill="#3c3c3c"/>
<rect x="448.40" y="366.00" width="8.10" height="9.90" fill="#ffffff"/>
<rect x="448.40" y="375.90" width="8.10" height="13.50" fill="#d6d6d6"/>
<rect x="448.40" y="389.40" width="8.10" height="18.70" fill="#8a8a8a"/>
<line x1="448.4" y1="366.0" x2="456.5" y2="366.0" stroke="#0a0a0a" stroke-width="1.9"/>
<line x1="448.4" y1="375.9" x2="456.5" y2="375.9" stroke="#0a0a0a" stroke-width="1.9"/>
<line x1="448.4" y1="389.4" x2="456.5" y2="389.4" stroke="#0a0a0a" stroke-width="1.9"/>
<rect x="448.40" y="363.75" width="8.10" height="44.35" fill="none" stroke="#0a0a0a" stroke-width="2.1"/>
<rect x="461.55" y="362.05" width="8.10" height="3.35" fill="#ffffff"/>
<rect x="461.55" y="365.40" width="8.10" height="42.70" fill="#8a8a8a"/>
<line x1="461.55" y1="365.4" x2="469.65" y2="365.4" stroke="#0a0a0a" stroke-width="1.9"/>
<rect x="461.55" y="362.05" width="8.10" height="46.05" fill="none" stroke="#0a0a0a" stroke-width="2.1"/>
<text x="295.1" y="411.3" font-size="10.2" text-anchor="end" textLength="43.88" lengthAdjust="spacingAndGlyphs" transform="rotate(-90 295.1 411.3)" fill="#111" stroke="#111" stroke-width="0.3" >GFs only</text>
<text x="308.45" y="411.3" font-size="10.2" text-anchor="end" textLength="11.02" lengthAdjust="spacingAndGlyphs" transform="rotate(-90 308.45 411.3)" fill="#111" stroke="#111" stroke-width="0.3" >Li</text>
<text x="321.95" y="411.3" font-size="10.2" text-anchor="end" textLength="22.62" lengthAdjust="spacingAndGlyphs" transform="rotate(-90 321.95 411.3)" fill="#111" stroke="#111" stroke-width="0.3" >VPA</text>
<text x="335.2" y="411.3" font-size="10.2" text-anchor="end" textLength="37.44" lengthAdjust="spacingAndGlyphs" transform="rotate(-90 335.2 411.3)" fill="#111" stroke="#111" stroke-width="0.3" >Li+VPA</text>
<text x="361.5" y="411.3" font-size="10.2" text-anchor="end" textLength="43.88" lengthAdjust="spacingAndGlyphs" transform="rotate(-90 361.5 411.3)" fill="#111" stroke="#111" stroke-width="0.3" >GFs only</text>
<text x="374.95" y="411.3" font-size="10.2" text-anchor="end" textLength="11.02" lengthAdjust="spacingAndGlyphs" transform="rotate(-90 374.95 411.3)" fill="#111" stroke="#111" stroke-width="0.3" >Li</text>
<text x="388.6" y="411.3" font-size="10.2" text-anchor="end" textLength="22.62" lengthAdjust="spacingAndGlyphs" transform="rotate(-90 388.6 411.3)" fill="#111" stroke="#111" stroke-width="0.3" >VPA</text>
<text x="402.1" y="411.3" font-size="10.2" text-anchor="end" textLength="37.44" lengthAdjust="spacingAndGlyphs" transform="rotate(-90 402.1 411.3)" fill="#111" stroke="#111" stroke-width="0.3" >Li+VPA</text>
<text x="428.9" y="411.3" font-size="10.2" text-anchor="end" textLength="43.88" lengthAdjust="spacingAndGlyphs" transform="rotate(-90 428.9 411.3)" fill="#111" stroke="#111" stroke-width="0.3" >GFs only</text>
<text x="442.5" y="411.3" font-size="10.2" text-anchor="end" textLength="11.02" lengthAdjust="spacingAndGlyphs" transform="rotate(-90 442.5 411.3)" fill="#111" stroke="#111" stroke-width="0.3" >Li</text>
<text x="455.95" y="411.3" font-size="10.2" text-anchor="end" textLength="22.62" lengthAdjust="spacingAndGlyphs" transform="rotate(-90 455.95 411.3)" fill="#111" stroke="#111" stroke-width="0.3" >VPA</text>
<text x="469.1" y="411.3" font-size="10.2" text-anchor="end" textLength="37.44" lengthAdjust="spacingAndGlyphs" transform="rotate(-90 469.1 411.3)" fill="#111" stroke="#111" stroke-width="0.3" >Li+VPA</text>
<rect x="473.45" y="290.65" width="9.60" height="8.70" fill="#3c3c3c" stroke="#0a0a0a" stroke-width="1.9"/>
<text x="489.6" y="298.0" font-size="9.4" text-anchor="start" textLength="19.5" lengthAdjust="spacingAndGlyphs" fill="#1a1a1a" stroke="#1a1a1a" stroke-width="0.2" >&gt; 100</text>
<rect x="473.45" y="307.75" width="9.60" height="8.70" fill="#ffffff" stroke="#0a0a0a" stroke-width="1.9"/>
<text x="489.6" y="315.1" font-size="9.4" text-anchor="start" textLength="26.5" lengthAdjust="spacingAndGlyphs" fill="#1a1a1a" stroke="#1a1a1a" stroke-width="0.2" >51-100</text>
<rect x="473.45" y="324.55" width="9.60" height="8.70" fill="#d6d6d6" stroke="#0a0a0a" stroke-width="1.9"/>
<text x="489.6" y="331.90000000000003" font-size="9.4" text-anchor="start" textLength="19.5" lengthAdjust="spacingAndGlyphs" fill="#1a1a1a" stroke="#1a1a1a" stroke-width="0.2" >21-50</text>
<rect x="473.45" y="341.35" width="9.60" height="8.70" fill="#8a8a8a" stroke="#0a0a0a" stroke-width="1.9"/>
<text x="489.6" y="348.7" font-size="9.4" text-anchor="start" textLength="17" lengthAdjust="spacingAndGlyphs" fill="#1a1a1a" stroke="#1a1a1a" stroke-width="0.2" >1-20</text>
</svg>
</body></html>
